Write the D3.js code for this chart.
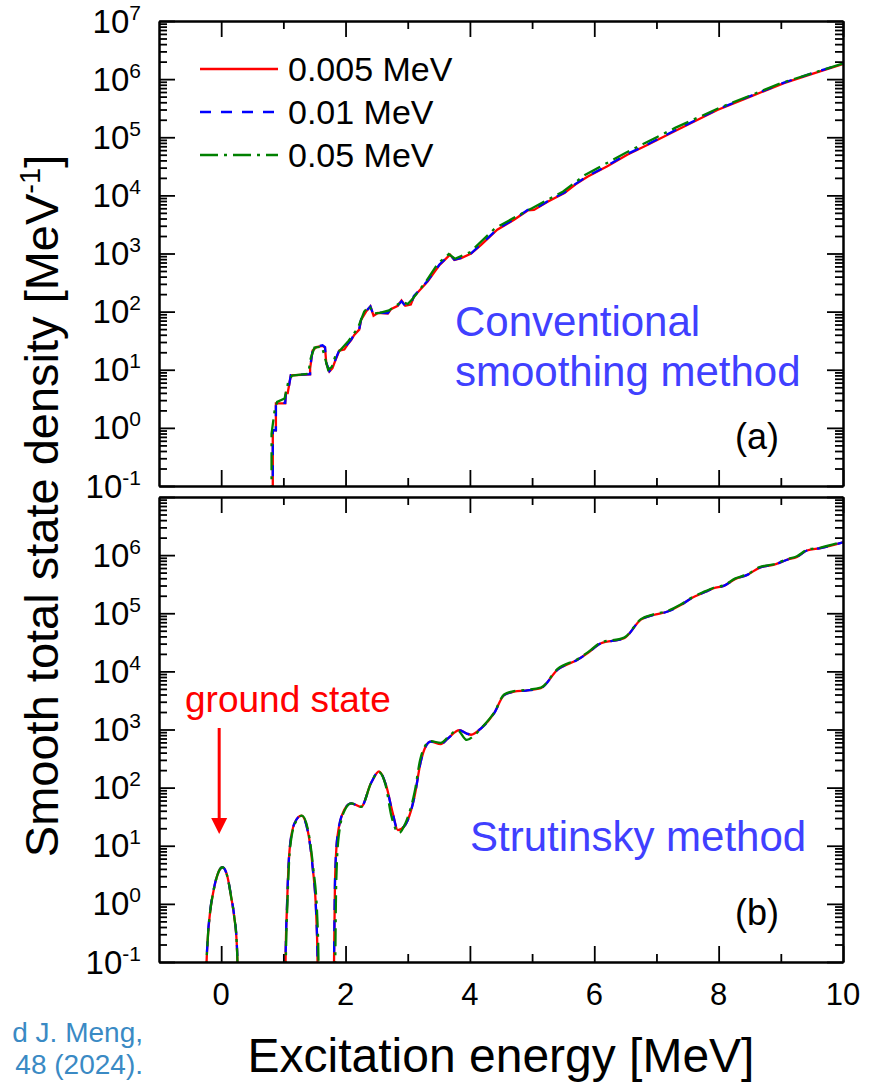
<!DOCTYPE html>
<html>
<head>
<meta charset="utf-8">
<script src="https://cdn.jsdelivr.net/npm/d3@7"></script>
<style>
body { margin: 0; background: #fff; }
svg text { font-family: "Liberation Sans", Arial, Helvetica, sans-serif; }
</style>
</head>
<body>
<div id="chart"></div>
<script>
// ---------------------------------------------------------------
// Data
// ---------------------------------------------------------------
var seriesNames = ["0.005 MeV", "0.01 MeV", "0.05 MeV"];
var xTicks = [0, 2, 4, 6, 8, 10];
var xMinorTicks = [1, 3, 5, 7, 9];

// panel (a): conventional smoothing
var aE = [0.83, 0.83, 0.88, 0.88, 1.03, 1.04, 1.07, 1.12, 1.43, 1.43, 1.47, 1.53, 1.63, 1.67, 1.69,
	1.74, 1.79, 1.85, 1.90, 1.98, 2.03, 2.09, 2.14, 2.22, 2.25, 2.33, 2.40, 2.45, 2.52, 2.68,
	2.73, 2.84, 2.90, 2.96, 3.05, 3.10, 3.32, 3.51, 3.68, 3.75, 3.86, 4.02, 4.18, 4.44, 4.71,
	4.93, 5.03, 5.25, 5.52, 5.70, 5.89, 6.21, 6.53, 6.86, 7.34, 7.98, 8.51, 9.05, 9.53, 10.0];
var aRed = [0.001, 0.91, 0.91, 2.63, 2.63, 3.98, 3.98, 8.0, 8.3, 10.5, 21.4, 24.5, 25.7, 24, 12.9,
	9.3, 10.7, 15.8, 21.4, 22.4, 26.9, 32.4, 39.8, 49, 72, 100, 123, 85, 95, 93,
	110, 126, 155, 126, 132, 182, 331, 631, 955, 776, 832, 1000, 1410, 2570, 3800,
	5500, 5620, 7760, 11000, 15500, 20900, 31600, 50100, 74100, 135000, 295000, 501000, 851000, 1260000, 1820000];
var aBlue = [0.001, 0.91, 0.91, 2.7, 2.7, 3.98, 3.98, 8.1, 8.4, 10.7, 21.9, 25.1, 26.3, 24.5, 13.2,
	9.5, 10.9, 16.2, 21.9, 22.9, 27.5, 33.1, 40.7, 50, 74, 102, 123, 87, 96, 94,
	112, 128, 151, 126, 135, 186, 339, 646, 955, 785, 842, 1010, 1440, 2630, 3890,
	5620, 5690, 7940, 11200, 15800, 21400, 32400, 51300, 75900, 138000, 302000, 512000, 871000, 1290000, 1850000];
var aGreenE = [0.81, 0.81, 0.86, 0.90, 1.02, 1.08, 1.14, 1.40, 1.44, 1.50, 1.62, 1.67, 1.72, 1.78,
	1.84, 1.95, 2.05, 2.20, 2.30, 2.38, 2.45, 2.55, 2.70, 2.85, 2.92, 3.00, 3.08, 3.30, 3.48,
	3.66, 3.76, 4.00, 4.40, 4.70, 5.00, 5.50, 5.85, 6.50, 7.30, 8.00, 9.00, 10.0];
var aGreen = [0.001, 0.79, 2.0, 2.8, 3.2, 6.3, 7.9, 8.5, 15.8, 24, 25.1, 15.8, 10, 11.2,
	17.8, 24, 31.6, 52.5, 100, 126, 93, 95, 105, 135, 148, 135, 166, 339, 661,
	977, 813, 1050, 2690, 4070, 6030, 11700, 22400, 53700, 145000, 316000, 851000, 1860000];

// panel (b): Strutinsky method (null = gap where the density drops out)
var bE = [-0.25, -0.24, -0.22, -0.18, -0.12, -0.06, 0.02, 0.10, 0.16, 0.21, 0.25, 0.265, 0.27,
	0.6,
	1.02, 1.035, 1.06, 1.10, 1.18, 1.29, 1.39, 1.47, 1.53, 1.55, 1.56,
	1.7,
	1.80, 1.815, 1.83, 1.87, 1.98, 2.09, 2.25, 2.41, 2.54, 2.65, 2.76, 2.84, 2.94, 3.00, 3.11,
	3.21, 3.29, 3.37, 3.53, 3.65, 3.83, 3.95, 4.02, 4.18, 4.39, 4.55, 4.71, 4.90, 5.14, 5.41,
	5.73, 5.90, 6.10, 6.48, 6.75, 6.95, 7.18, 7.39, 7.55, 7.79, 7.92, 8.08, 8.27, 8.46, 8.67,
	8.88, 9.10, 9.26, 9.42, 9.64, 10.0];
var bRed = [0.001, 0.063, 0.21, 0.69, 1.74, 3.16, 4.27, 2.95, 1.32, 0.60, 0.21, 0.063, 0.001,
	null,
	0.001, 0.1, 1.0, 8.5, 24.5, 33.1, 18.6, 4.4, 0.6, 0.1, 0.001,
	null,
	0.001, 0.1, 2.3, 14.5, 41.7, 53.7, 46.8, 120, 191, 112, 36.3, 18.6, 21.4, 27.5, 70.8,
	282, 513, 617, 562, 708, 977, 851, 813, 1050, 1910, 3900, 4470, 4680, 5130, 10700,
	15800, 20900, 30200, 37200, 77600, 93300, 107000, 138000, 178000, 234000, 269000, 295000, 389000, 457000, 617000,
	676000, 832000, 933000, 1200000, 1320000, 1660000];
var bBlue = [0.001, 0.065, 0.22, 0.71, 1.78, 3.2, 4.27, 2.95, 1.35, 0.62, 0.22, 0.065, 0.001,
	null,
	0.001, 0.1, 1.05, 8.7, 24.5, 33.1, 18.2, 4.3, 0.6, 0.1, 0.001,
	null,
	0.001, 0.1, 2.4, 14.8, 41.7, 53.7, 46.8, 120, 191, 110, 35.5, 18.6, 21.4, 27.5, 70.8,
	282, 513, 617, 562, 708, 977, 851, 813, 1050, 1910, 3900, 4470, 4680, 5130, 10700,
	15800, 20900, 30200, 37200, 77600, 93300, 107000, 138000, 178000, 234000, 269000, 295000, 389000, 457000, 617000,
	676000, 832000, 933000, 1200000, 1320000, 1660000];
var bGreenE = [-0.25, -0.24, -0.22, -0.18, -0.12, -0.06, 0.02, 0.10, 0.16, 0.21, 0.25, 0.265, 0.27,
	0.6,
	1.025, 1.04, 1.065, 1.105, 1.19, 1.30, 1.40, 1.48, 1.545, 1.565, 1.575,
	1.7,
	1.82, 1.835, 1.85, 1.89, 1.99, 2.09, 2.25, 2.41, 2.53, 2.64, 2.74, 2.86, 2.96, 3.02, 3.11,
	3.20, 3.28, 3.37, 3.53, 3.65, 3.80, 3.95, 4.05, 4.18, 4.39, 4.55, 4.71, 4.90, 5.14, 5.41,
	5.73, 5.90, 6.10, 6.48, 6.75, 6.95, 7.18, 7.39, 7.55, 7.79, 7.92, 8.08, 8.27, 8.46, 8.67,
	8.88, 9.10, 9.26, 9.42, 9.64, 10.0];
var bGreen = [0.001, 0.063, 0.21, 0.69, 1.74, 3.16, 4.27, 2.95, 1.32, 0.60, 0.21, 0.063, 0.001,
	null,
	0.001, 0.1, 1.0, 8.5, 24.5, 33.1, 17.8, 4.2, 0.6, 0.1, 0.001,
	null,
	0.001, 0.1, 2.3, 14.5, 41.7, 53.7, 46.8, 120, 186, 115, 31.6, 16.6, 24, 35.5, 83,
	302, 525, 631, 589, 741, 977, 661, 759, 1050, 1950, 4000, 4570, 4790, 5250, 11000,
	16200, 21400, 31000, 38000, 79400, 95500, 110000, 141000, 182000, 240000, 275000, 302000, 398000, 468000, 631000,
	692000, 851000, 955000, 1230000, 1350000, 1700000];

// ---------------------------------------------------------------
// Chart
// ---------------------------------------------------------------
var chart = {
	width: 875,
	height: 1082,
	left: 159,
	right: 843
};

var styles = [
	{ color: "#ff0000", dash: null },
	{ color: "#0000ff", dash: "11,10" },
	{ color: "#008000", dash: "18,6,3,6" }
];

var panels = [
	{ id: "a", top: 21, bottom: 486, maxExp: 7, curve: d3.curveLinear,
		series: [[aE, aRed], [aE, aBlue], [aGreenE, aGreen]] },
	{ id: "b", top: 497, bottom: 962, maxExp: 6, curve: d3.curveMonotoneX,
		series: [[bE, bRed], [bE, bBlue], [bGreenE, bGreen]] }
];

var svg = d3.select("#chart")
	.append("svg")
	.attr("width", chart.width)
	.attr("height", chart.height);

var xScale = d3.scaleLinear()
	.domain([-1, 10])
	.range([chart.left, chart.right]);

var decades = d3.range(-1, 8).map(function(k) { return Math.pow(10, k); });
var minorY = [];
d3.range(-1, 7).forEach(function(k) {
	for (var m = 2; m <= 9; m++) minorY.push(m * Math.pow(10, k));
});

function styleAxis(g) {
	g.selectAll("path.domain").attr("stroke", "#000").attr("stroke-width", 2);
	g.selectAll(".tick line").attr("stroke", "#000").attr("stroke-width", 1.8);
	g.selectAll(".tick text").remove();
}

panels.forEach(function(p) {
	var yScale = d3.scaleLog()
		.domain([0.1, 1e7])
		.range([p.bottom, p.top]);

	svg.append("clipPath")
		.attr("id", "clip-" + p.id)
		.append("rect")
		.attr("x", chart.left)
		.attr("y", p.top)
		.attr("width", chart.right - chart.left)
		.attr("height", p.bottom - p.top);

	// curves
	var line = d3.line()
		.defined(function(d) { return d[1] != null; })
		.x(function(d) { return xScale(d[0]); })
		.y(function(d) { return yScale(d[1]); })
		.curve(p.curve);

	p.series.forEach(function(s, i) {
		svg.append("path")
			.datum(d3.zip(s[0], s[1]))
			.attr("clip-path", "url(#clip-" + p.id + ")")
			.attr("fill", "none")
			.attr("stroke", styles[i].color)
			.attr("stroke-width", 2.3)
			.attr("stroke-dasharray", styles[i].dash)
			.attr("d", line);
	});

	// y axes, left and right, ticks inward
	svg.append("g").attr("transform", "translate(" + chart.left + ",0)")
		.call(d3.axisLeft(yScale).tickValues(minorY).tickSizeInner(-8).tickSizeOuter(0)).call(styleAxis);
	svg.append("g").attr("transform", "translate(" + chart.left + ",0)")
		.call(d3.axisLeft(yScale).tickValues(decades).tickSizeInner(-16).tickSizeOuter(0)).call(styleAxis);
	svg.append("g").attr("transform", "translate(" + chart.right + ",0)")
		.call(d3.axisRight(yScale).tickValues(minorY).tickSizeInner(-8).tickSizeOuter(0)).call(styleAxis);
	svg.append("g").attr("transform", "translate(" + chart.right + ",0)")
		.call(d3.axisRight(yScale).tickValues(decades).tickSizeInner(-16).tickSizeOuter(0)).call(styleAxis);

	// x axes, bottom and top
	svg.append("g").attr("transform", "translate(0," + p.bottom + ")")
		.call(d3.axisBottom(xScale).tickValues(xMinorTicks).tickSizeInner(-8).tickSizeOuter(0)).call(styleAxis);
	svg.append("g").attr("transform", "translate(0," + p.bottom + ")")
		.call(d3.axisBottom(xScale).tickValues(xTicks).tickSizeInner(-16).tickSizeOuter(0)).call(styleAxis);
	svg.append("g").attr("transform", "translate(0," + p.top + ")")
		.call(d3.axisTop(xScale).tickValues(xMinorTicks).tickSizeInner(-8).tickSizeOuter(0)).call(styleAxis);
	svg.append("g").attr("transform", "translate(0," + p.top + ")")
		.call(d3.axisTop(xScale).tickValues(xTicks).tickSizeInner(-16).tickSizeOuter(0)).call(styleAxis);

	// y tick labels 10^n
	d3.range(-1, p.maxExp + 1).forEach(function(k) {
		var t = svg.append("text")
			.attr("x", 141)
			.attr("y", yScale(Math.pow(10, k)) + 11.5)
			.attr("text-anchor", "end")
			.attr("font-size", 33)
			.text("10");
		t.append("tspan")
			.attr("dy", -13)
			.attr("font-size", 21)
			.text(k);
	});
});

// x tick labels under panel (b)
xTicks.forEach(function(v) {
	svg.append("text")
		.attr("x", xScale(v))
		.attr("y", 1005)
		.attr("text-anchor", "middle")
		.attr("font-size", 31)
		.text(v);
});

// axis titles
svg.append("text")
	.attr("x", (chart.left + chart.right) / 2)
	.attr("y", 1072)
	.attr("text-anchor", "middle")
	.attr("font-size", 48)
	.text("Excitation energy [MeV]");

var yt = svg.append("text")
	.attr("transform", "translate(58,506) rotate(-90)")
	.attr("text-anchor", "middle")
	.attr("font-size", 47)
	.text("Smooth total state density [MeV");
yt.append("tspan").attr("dy", -18).attr("font-size", 29).text("-1");
yt.append("tspan").attr("dy", 18).text("]");

// legend
seriesNames.forEach(function(name, i) {
	var ly = 69 + i * 43;
	svg.append("line")
		.attr("x1", 200).attr("x2", 278)
		.attr("y1", ly).attr("y2", ly)
		.attr("stroke", styles[i].color)
		.attr("stroke-width", 2.3)
		.attr("stroke-dasharray", styles[i].dash);
	svg.append("text")
		.attr("x", 288)
		.attr("y", ly + 12)
		.attr("font-size", 34)
		.text(name);
});

// panel annotations
var blue = "#4040ff";
svg.append("text").attr("x", 455).attr("y", 336).attr("font-size", 42).attr("fill", blue).text("Conventional");
svg.append("text").attr("x", 455).attr("y", 386).attr("font-size", 42).attr("fill", blue).text("smoothing method");
svg.append("text").attr("x", 735).attr("y", 449).attr("font-size", 36).text("(a)");
svg.append("text").attr("x", 470).attr("y", 851).attr("font-size", 42).attr("fill", blue).text("Strutinsky method");
svg.append("text").attr("x", 735).attr("y", 925).attr("font-size", 36).text("(b)");

// ground state arrow
var ax = xScale(0) - 2;
svg.append("text").attr("x", 185).attr("y", 712).attr("font-size", 37).attr("fill", "#ff0000").text("ground state");
svg.append("line")
	.attr("x1", ax).attr("x2", ax)
	.attr("y1", 728).attr("y2", 820)
	.attr("stroke", "#ff0000")
	.attr("stroke-width", 3);
svg.append("path")
	.attr("d", "M" + (ax - 8) + ",818L" + (ax + 8) + ",818L" + ax + ",834Z")
	.attr("fill", "#ff0000");

// citation fragment at the lower left
var cite = "#3a8ac4";
svg.append("text").attr("x", 143).attr("y", 1042).attr("text-anchor", "end")
	.attr("font-size", 28).attr("fill", cite)
	.text("d J. Meng,");
svg.append("text").attr("x", 143).attr("y", 1074).attr("text-anchor", "end")
	.attr("font-size", 28).attr("fill", cite)
	.text("48 (2024).");
</script>
</body>
</html>
